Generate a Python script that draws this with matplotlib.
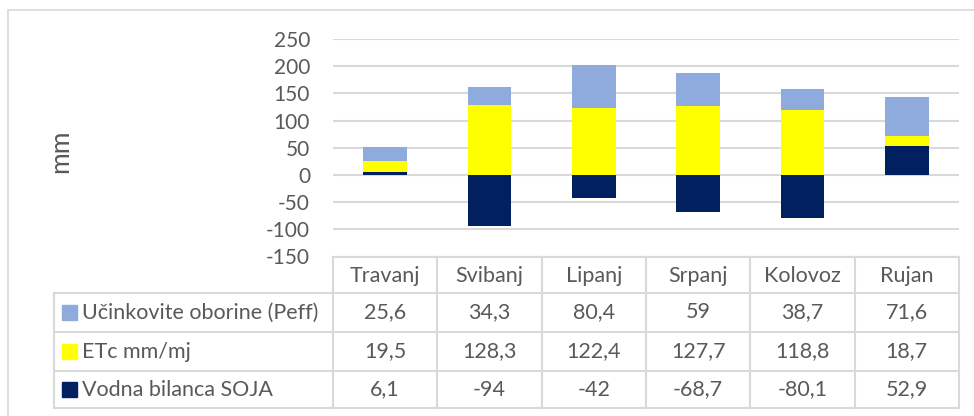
import matplotlib
matplotlib.use("Agg")
import matplotlib.pyplot as plt
from matplotlib.patches import Rectangle
from matplotlib.lines import Line2D
import numpy as np

plt.rcParams['font.family'] = ['Lato', 'DejaVu Sans']
plt.rcParams['axes.unicode_minus'] = False

months = ["Travanj", "Svibanj", "Lipanj", "Srpanj", "Kolovoz", "Rujan"]
peff = [25.6, 34.3, 80.4, 59, 38.7, 71.6]
etc = [19.5, 128.3, 122.4, 127.7, 118.8, 18.7]
vodna = [6.1, -94, -42, -68.7, -80.1, 52.9]
series_names = ["Učinkovite oborine (Peff)", "ETc mm/mj", "Vodna bilanca SOJA"]
yticks = [-150, -100, -50, 0, 50, 100, 150, 200, 250]

c_peff = '#8FAADC'
c_etc = '#FFFF00'
c_vodna = '#002060'
grid_c = '#D9D9D9'
txt_c = '#595959'
fs = 15
fs_tab = 15.5

W, H = 974, 416
fig = plt.figure(figsize=(W / 100, H / 100), dpi=100)

def fx(px):
    return px / W

def fy(py):
    return 1 - py / H

# plot area
x0, x1 = 333, 959
ytop, ybot = 39, 256.5
ax = fig.add_axes([fx(x0), fy(ybot), fx(x1) - fx(x0), fy(ytop) - fy(ybot)])

x = np.arange(len(months))
vodna = np.array(vodna)
etc = np.array(etc)
peff = np.array(peff)
pos_base = np.where(vodna > 0, vodna, 0)
bw = 0.42
ax.bar(x, vodna, bw, color=c_vodna, zorder=3)
ax.bar(x, etc, bw, bottom=pos_base, color=c_etc, zorder=3)
ax.bar(x, peff, bw, bottom=pos_base + etc, color=c_peff, zorder=3)

ax.set_xlim(-0.5, len(months) - 0.5)
ax.set_ylim(-150, 250)
ax.set_yticks(yticks)
ax.set_xticks([])
for y in yticks:
    ax.axhline(y, color=grid_c, lw=1.5, zorder=1)
for s in ax.spines.values():
    s.set_visible(False)
ax.tick_params(axis='y', length=0, pad=16.5, labelsize=fs, labelcolor=txt_c)
ax.patch.set_alpha(0)

fig.text(fx(61), fy(151), "mm", rotation=90, ha='center', va='center',
         fontsize=19, color=txt_c)

# chart border
fig.add_artist(Rectangle((fx(8), fy(430)), fx(1000) - fx(8), fy(10) - fy(430),
                         transform=fig.transFigure, fill=False,
                         edgecolor=grid_c, lw=1.2))

# data table
row_y = [257, 293, 332, 371, 408]
col_w = (x1 - x0) / len(months)
col_x = [x0 + i * col_w for i in range(len(months) + 1)]
lab_x = 54

def hline(px_a, px_b, py):
    fig.add_artist(Line2D([fx(px_a), fx(px_b)], [fy(py), fy(py)],
                          transform=fig.transFigure, color=grid_c, lw=1.5))

def vline(px, py_a, py_b):
    fig.add_artist(Line2D([fx(px), fx(px)], [fy(py_a), fy(py_b)],
                          transform=fig.transFigure, color=grid_c, lw=1.5))

hline(x0, x1, row_y[0])
for py in row_y[1:]:
    hline(lab_x, x1, py)
for px in col_x:
    vline(px, row_y[0], row_y[-1])
vline(lab_x, row_y[1], row_y[-1])

def fmt(v):
    return f"{v:g}".replace('.', ',')

for i, m in enumerate(months):
    cx = (col_x[i] + col_x[i + 1]) / 2
    fig.text(fx(cx), fy((row_y[0] + row_y[1]) / 2 + 1), m, ha='center', va='center',
             fontsize=fs_tab, color=txt_c)

rows = [peff, etc, vodna]
colors = [c_peff, c_etc, c_vodna]
for r, (name, vals, c) in enumerate(zip(series_names, rows, colors)):
    cy = (row_y[r + 1] + row_y[r + 2]) / 2
    fig.add_artist(Rectangle((fx(62), fy(cy + 7.5)), fx(77) - fx(62), fy(cy - 7.5) - fy(cy + 7.5),
                             transform=fig.transFigure, color=c))
    fig.text(fx(82), fy(cy), name, ha='left', va='center', fontsize=fs_tab, color=txt_c)
    for i, v in enumerate(vals):
        cx = (col_x[i] + col_x[i + 1]) / 2
        fig.text(fx(cx), fy(cy), fmt(v), ha='center', va='center', fontsize=fs_tab, color=txt_c)

fig.savefig("out.png", dpi=100)
